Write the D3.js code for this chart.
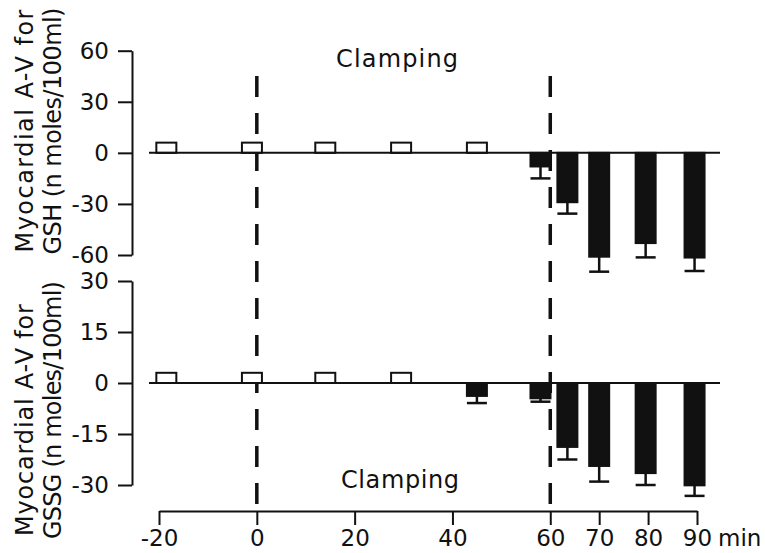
<html>
<head>
<meta charset="UTF-8">
<script src="https://d3js.org/d3.v7.min.js"></script>
<style>
    body { margin: 0; background: #fff; }
    text { font-family: "DejaVu Sans", sans-serif; fill: #111; }
    .axis path, .axis line { stroke: #111; stroke-width: 2; }
    .axis text { font-size: 23px; font-family: "DejaVu Sans", sans-serif; fill: #111; }
</style>
</head>
<body>
<svg width="765" height="553" id="canvas"></svg>
<script>
    // sampling times (min) as placed in the figure
    var times = [-18.5, -1, 14, 29.5, 45, 58, 63.5, 70, 79.5, 89.5];
    // GSH A-V difference and SE
    var gsh = [6, 6, 6, 6, 6, -8, -29, -61, -53, -61.5];
    var gshErr = [0, 0, 0, 0, 0, 7, 6.7, 8.8, 8.4, 7.9];
    // GSSG A-V difference and SE
    var gssg = [3, 3, 3, 3, -3.8, -4.5, -18.8, -24.4, -26.5, -30.1];
    var gssgErr = [0, 0, 0, 0, 2.1, 1, 3.7, 4.6, 3.5, 3.1];

    var xTicks = [-20, 0, 20, 40, 60, 70, 80, 90];
    var gshTicks = [60, 30, 0, -30, -60];
    var gssgTicks = [30, 15, 0, -15, -30];
    var clampLines = [0, 60];

    var svg = d3.select("#canvas");
    var barW = 20;

    var x = d3.scaleLinear().domain([-20, 90]).range([159, 697]);
    var yTop = d3.scaleLinear().domain([-60, 60]).range([255, 50.7]);
    var yBot = d3.scaleLinear().domain([-30, 30]).range([485, 281]);

    var fmt = function (d) { return d < 0 ? "-" + Math.abs(d) : "" + d; };

    // y axes
    svg.append("g").attr("class", "axis")
        .attr("transform", "translate(132,0)")
        .call(d3.axisLeft(yTop).tickValues(gshTicks).tickSize(14).tickSizeOuter(0).tickPadding(9).tickFormat(fmt));
    svg.append("g").attr("class", "axis")
        .attr("transform", "translate(132,0)")
        .call(d3.axisLeft(yBot).tickValues(gssgTicks).tickSize(14).tickSizeOuter(0).tickPadding(9).tickFormat(fmt));

    // x axis
    svg.append("g").attr("class", "axis")
        .attr("transform", "translate(0,511)")
        .call(d3.axisBottom(x).tickValues(xTicks).tickSize(14).tickSizeOuter(0).tickPadding(5).tickFormat(fmt));

    svg.append("text").attr("x", 718).attr("y", 546)
        .style("font-size", "23px").text("min");

    // clamping lines
    svg.selectAll(".clamp").data(clampLines).enter().append("line")
        .attr("class", "clamp")
        .attr("x1", function (d) { return x(d); })
        .attr("x2", function (d) { return x(d); })
        .attr("y1", 76).attr("y2", 510)
        .attr("stroke", "#111").attr("stroke-width", 3.5)
        .attr("stroke-dasharray", "21,16");

    function panel(y, vals, errs) {
        var g = svg.append("g");
        var data = times.map(function (t, i) { return { t: t, v: vals[i], e: errs[i] }; });

        // error bars (below negative bars)
        var eb = data.filter(function (d) { return d.e > 0; });
        g.selectAll(".stem").data(eb).enter().append("line")
            .attr("x1", function (d) { return x(d.t); })
            .attr("x2", function (d) { return x(d.t); })
            .attr("y1", function (d) { return y(d.v); })
            .attr("y2", function (d) { return y(d.v - d.e); })
            .attr("stroke", "#111").attr("stroke-width", 2.5);
        g.selectAll(".cap").data(eb).enter().append("line")
            .attr("x1", function (d) { return x(d.t) - barW / 2; })
            .attr("x2", function (d) { return x(d.t) + barW / 2; })
            .attr("y1", function (d) { return y(d.v - d.e); })
            .attr("y2", function (d) { return y(d.v - d.e); })
            .attr("stroke", "#111").attr("stroke-width", 2.5);

        g.selectAll(".bar").data(data).enter().append("rect")
            .attr("x", function (d) { return x(d.t) - barW / 2; })
            .attr("y", function (d) { return y(Math.max(0, d.v)); })
            .attr("width", barW)
            .attr("height", function (d) { return Math.abs(y(d.v) - y(0)); })
            .attr("fill", function (d) { return d.v > 0 ? "#fff" : "#111"; })
            .attr("stroke", "#111").attr("stroke-width", 2);

        // zero line
        g.append("line")
            .attr("x1", 149).attr("x2", 720)
            .attr("y1", y(0)).attr("y2", y(0))
            .attr("stroke", "#111").attr("stroke-width", 2);
    }

    panel(yTop, gsh, gshErr);
    panel(yBot, gssg, gssgErr);

    // clamping labels
    svg.append("text").attr("x", 397).attr("y", 67).attr("text-anchor", "middle")
        .style("font-size", "24px").attr("textLength", 122).text("Clamping");
    svg.append("text").attr("x", 400).attr("y", 488).attr("text-anchor", "middle")
        .style("font-size", "24px").attr("textLength", 118).text("Clamping");

    // y titles
    function ytitle(cy1, cy2, l1, l2, len1, len2) {
        svg.append("text").attr("transform", "translate(33," + cy1 + ") rotate(-90)")
            .attr("text-anchor", "middle").style("font-size", "24px")
            .attr("textLength", len1).text(l1);
        svg.append("text").attr("transform", "translate(61," + cy2 + ") rotate(-90)")
            .attr("text-anchor", "middle").style("font-size", "24px")
            .attr("textLength", len2).text(l2);
    }
    ytitle(131, 131, "Myocardial A-V for", "GSH (n moles/100ml)", 243, 247);
    ytitle(420, 410, "Myocardial A-V for", "GSSG (n moles/100ml)", 232, 258);
</script>
</body>
</html>
